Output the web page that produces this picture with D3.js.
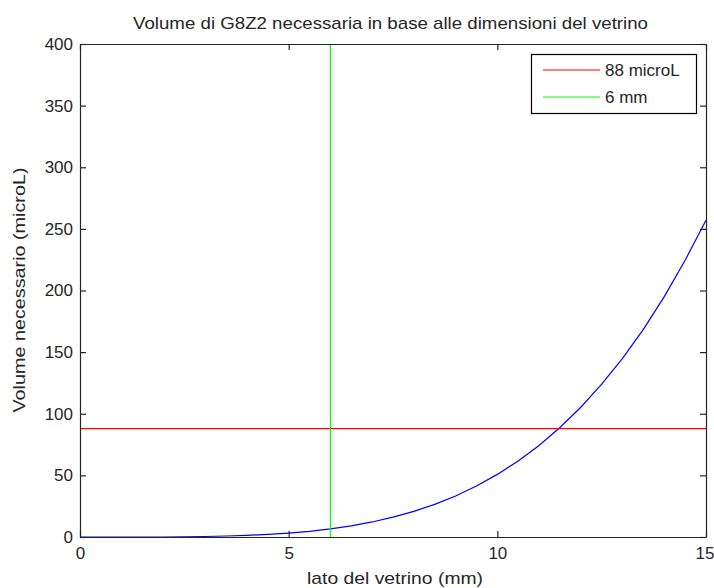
<!DOCTYPE html>
<html><head><meta charset="utf-8">
<script src="https://cdn.jsdelivr.net/npm/d3@7"></script>
<style>
html,body{margin:0;padding:0;background:#fff;}
svg text{font-family:"Liberation Sans",Arial,Helvetica,sans-serif;fill:#262626;}
</style></head>
<body><svg id="c" width="714" height="588"></svg>
<script>
// ---- data ----
const sideMM = [0,0.5,1,1.5,2,2.5,3,3.5,4,4.5,5,5.5,6,6.5,7,7.5,8,8.5,9,9.5,10,10.5,11,11.5,12,12.5,13,13.5,14,14.5,15];
const volumeMicroL = [0,0,0,0,0,0.2,0.4,0.8,1.3,2.1,3.2,4.6,6.6,9.1,12.2,16.1,20.8,26.5,33.3,41.4,50.8,61.7,74.3,88.8,105.3,124,145,168.5,195,224.5,257];
const refVolume = 88;
const refSide = 6;
const legendLabels = ["88 microL", "6 mm"];
const xTicks = [0,5,10,15];
const yTicks = [0,50,100,150,200,250,300,350,400];
const titleText = "Volume di G8Z2 necessaria in base alle dimensioni del vetrino";
const xLabelText = "lato del vetrino (mm)";
const yLabelText = "Volume necessario (microL)";

const svg = d3.select("#c");
const L = 80, R = 706, T = 44, B = 537;
const x = d3.scaleLinear().domain([0,15]).range([L,R]);
const y = d3.scaleLinear().domain([0,400]).range([B,T]);
const axCol = "#262626";
const fs = 17;

// lines
const line = d3.line().x((d,i)=>x(sideMM[i])).y(d=>y(d));
svg.append("path").datum(volumeMicroL).attr("d", line)
  .attr("fill","none").attr("stroke","#0000ff").attr("stroke-width",1.2);
svg.append("line").attr("x1",x(0)).attr("x2",x(15)).attr("y1",y(refVolume)).attr("y2",y(refVolume))
  .attr("stroke","#ff0000").attr("stroke-width",1.2);
svg.append("line").attr("x1",x(refSide)).attr("x2",x(refSide)).attr("y1",y(0)).attr("y2",y(400))
  .attr("stroke","#00ff00").attr("stroke-width",1.2);

// axes
const tl = 6;
const gB = svg.append("g").attr("transform",`translate(0,${B})`)
  .call(d3.axisBottom(x).tickValues(xTicks).tickSizeInner(-tl).tickSizeOuter(0).tickPadding(10));
const gT = svg.append("g").attr("transform",`translate(0,${T})`)
  .call(d3.axisTop(x).tickValues(xTicks).tickSizeInner(-tl).tickSizeOuter(0).tickFormat(""));
const gL = svg.append("g").attr("transform",`translate(${L},0)`)
  .call(d3.axisLeft(y).tickValues(yTicks).tickSizeInner(-tl).tickSizeOuter(0).tickPadding(7));
const gR = svg.append("g").attr("transform",`translate(${R},0)`)
  .call(d3.axisRight(y).tickValues(yTicks).tickSizeInner(-tl).tickSizeOuter(0).tickFormat(""));
[gB,gT,gL,gR].forEach(g=>{
  g.selectAll(".domain").attr("stroke",axCol).attr("stroke-width",1.2);
  g.selectAll(".tick line").attr("stroke",axCol).attr("stroke-width",1.2);
  g.selectAll(".tick text").attr("font-size",fs).attr("fill",axCol)
    .style("font-family",'"Liberation Sans",Arial,sans-serif');
});
// keep the last x tick label inside the window (reference shows it flush at the edge)
gB.selectAll(".tick text").filter(d=>d===15).attr("text-anchor","end").attr("dx",8);

// titles
svg.append("text").attr("x",390.5).attr("y",29).attr("text-anchor","middle")
  .attr("font-size",fs).attr("textLength",515).attr("lengthAdjust","spacingAndGlyphs").text(titleText);
svg.append("text").attr("x",395).attr("y",584).attr("text-anchor","middle")
  .attr("font-size",fs).attr("textLength",176).attr("lengthAdjust","spacingAndGlyphs").text(xLabelText);
svg.append("text").attr("transform",`translate(25,290) rotate(-90)`).attr("text-anchor","middle")
  .attr("font-size",fs).attr("textLength",245).attr("lengthAdjust","spacingAndGlyphs").text(yLabelText);

// legend
const lg = svg.append("g");
lg.append("rect").attr("x",531.5).attr("y",54.5).attr("width",165).attr("height",59)
  .attr("fill","#fff").attr("stroke","#000").attr("stroke-width",1.2);
const lcol = ["#ff0000","#00ff00"];
legendLabels.forEach((t,i)=>{
  const yy = 70 + i*27;
  lg.append("line").attr("x1",543).attr("x2",600).attr("y1",yy).attr("y2",yy)
    .attr("stroke",lcol[i]).attr("stroke-width",1.2);
  lg.append("text").attr("x",605).attr("y",yy+6).attr("font-size",fs).attr("fill","#000").text(t);
});
</script></body></html>
